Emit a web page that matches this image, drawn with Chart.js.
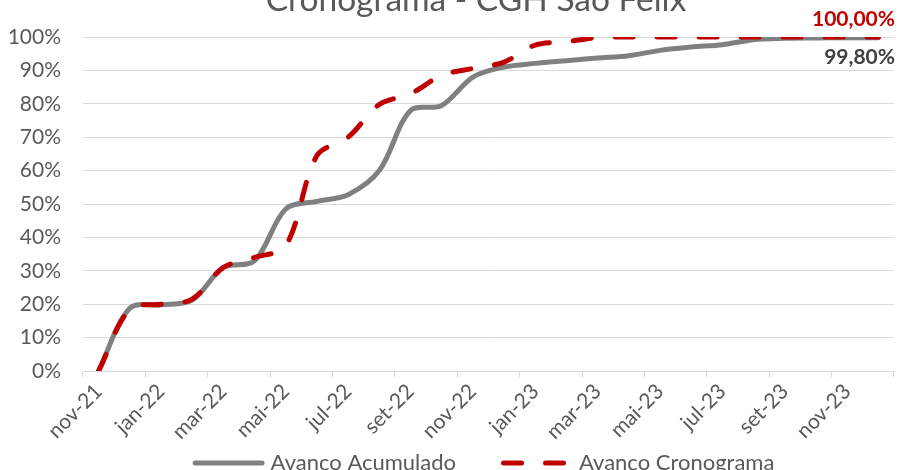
<!DOCTYPE html>
<html>
<head>
<meta charset="utf-8">
<script src="https://cdn.jsdelivr.net/npm/chart.js@4.4.1/dist/chart.umd.min.js"></script>
<style>
  html, body { margin: 0; padding: 0; background: #ffffff; }
  #wrap { position: relative; width: 900px; height: 470px; overflow: hidden; }
  canvas { display: block; }
</style>
</head>
<body>
<div id="wrap"><canvas id="chart" width="900" height="470"></canvas></div>
<script>
// Monthly progress of the CGH São Felix works (percent complete)
const chartTitle = 'Cronograma - CGH São Felix';

const months = [
  'nov-21', 'dez-21', 'jan-22', 'fev-22', 'mar-22', 'abr-22', 'mai-22',
  'jun-22', 'jul-22', 'ago-22', 'set-22', 'out-22', 'nov-22', 'dez-22',
  'jan-23', 'fev-23', 'mar-23', 'abr-23', 'mai-23', 'jun-23', 'jul-23',
  'ago-23', 'set-23', 'out-23', 'nov-23', 'dez-23'
];

const avancoAcumulado = [
  0, 18.8, 19.8, 21.2, 31, 33, 48.5,
  50.8, 52.8, 60, 78, 79.5, 88, 91,
  92.1, 92.9, 93.7, 94.4, 96, 97, 97.7,
  99.2, 99.6, 99.7, 99.8, 99.8
];

const avancoCronograma = [
  0, 18.5, 20, 21.5, 31, 34, 37.5,
  64.5, 70, 79.8, 83, 88.5, 90.6, 92.5,
  97.6, 98.6, 99.8, 100, 100, 100, 100,
  100, 100, 100, 100, 100
];

const yTickValues = [0, 10, 20, 30, 40, 50, 60, 70, 80, 90, 100];

const FONT = 'Lato, "Open Sans", sans-serif';
const TEXT_GREY = '#595959';
const GRID = '#d9d9d9';

const pct = v => v.toFixed(2).replace('.', ',') + '%';

// Title sits at the very top of the canvas
const titlePlugin = {
  id: 'topTitle',
  afterDraw(chart) {
    const { ctx } = chart;
    ctx.save();
    ctx.font = '33.5px ' + FONT;
    ctx.fillStyle = TEXT_GREY;
    ctx.textAlign = 'center';
    ctx.textBaseline = 'alphabetic';
    ctx.fillText(chartTitle, 476, 11);
    ctx.restore();
  }
};

// Value of the last point of each series, written at the right edge
const endLabelPlugin = {
  id: 'endLabels',
  afterDatasetsDraw(chart) {
    const { ctx } = chart;
    chart.data.datasets.forEach((ds, i) => {
      const meta = chart.getDatasetMeta(i);
      const last = meta.data.length - 1;
      const pt = meta.data[last];
      const cfg = ds.endLabel;
      ctx.save();
      ctx.font = 'bold 21px ' + FONT;
      ctx.fillStyle = cfg.color;
      ctx.textAlign = 'right';
      ctx.textBaseline = 'middle';
      ctx.fillText(pct(ds.data[last]), chart.width - 5, pt.y + cfg.dy);
      ctx.restore();
    });
  }
};

// Legend along the bottom edge
const legendPlugin = {
  id: 'bottomLegend',
  afterDraw(chart) {
    const { ctx } = chart;
    const sample = 72, toText = 6, itemGap = 45, cy = 463;
    ctx.save();
    ctx.font = '22px ' + FONT;
    const items = chart.data.datasets.map(ds => ({ ds, w: ctx.measureText(ds.label).width }));
    let total = 0;
    items.forEach((it, i) => { total += sample + toText + it.w + (i ? itemGap : 0); });
    let x = 483.5 - total / 2;
    items.forEach((it, i) => {
      if (i) x += itemGap;
      const ds = it.ds;
      ctx.beginPath();
      ctx.strokeStyle = ds.borderColor;
      ctx.lineWidth = ds.borderWidth;
      ctx.lineCap = ds.borderCapStyle;
      ctx.setLineDash(ds.borderDash || []);
      ctx.moveTo(x + 2.5, cy);
      ctx.lineTo(x + sample - 2.5, cy);
      ctx.stroke();
      ctx.setLineDash([]);
      x += sample + toText;
      ctx.fillStyle = TEXT_GREY;
      ctx.textAlign = 'left';
      ctx.textBaseline = 'middle';
      ctx.fillText(ds.label, x, cy);
      x += it.w;
    });
    ctx.restore();
  }
};

new Chart(document.getElementById('chart'), {
  type: 'line',
  data: {
    labels: months,
    datasets: [
      {
        label: 'Avanço Acumulado',
        data: avancoAcumulado,
        order: 1,
        borderColor: '#808080',
        borderWidth: 5,
        borderCapStyle: 'round',
        borderJoinStyle: 'round',
        tension: 0.33,
        pointRadius: 0,
        fill: false,
        endLabel: { color: '#404040', dy: 20 }
      },
      {
        label: 'Avanço Cronograma',
        data: avancoCronograma,
        order: 0,
        borderColor: '#c00000',
        borderWidth: 5,
        borderDash: [18, 24],
        borderCapStyle: 'round',
        borderJoinStyle: 'round',
        tension: 0.33,
        pointRadius: 0,
        fill: false,
        endLabel: { color: '#c00000', dy: -18 }
      }
    ]
  },
  options: {
    responsive: false,
    animation: false,
    events: [],
    layout: { padding: { top: 37, right: 6, bottom: 0, left: 0 } },
    plugins: {
      legend: { display: false },
      title: { display: false },
      tooltip: { enabled: false }
    },
    scales: {
      x: {
        type: 'category',
        offset: true,
        grid: {
          display: true,
          offset: true,
          drawOnChartArea: false,
          drawTicks: true,
          tickLength: 6,
          lineWidth: 1,
          color: ctx => (ctx.index === undefined || ctx.index % 2 === 0) ? GRID : 'rgba(0,0,0,0)'
        },
        border: { display: true, color: GRID, width: 1 },
        ticks: {
          autoSkip: false,
          minRotation: 45,
          maxRotation: 45,
          padding: 2,
          color: TEXT_GREY,
          font: { family: FONT, size: 21 },
          callback(value, index) {
            return index % 2 === 0 ? this.getLabelForValue(value) : '';
          }
        },
        afterFit(scale) { scale.height = 99; }
      },
      y: {
        min: yTickValues[0],
        max: yTickValues[yTickValues.length - 1],
        afterBuildTicks(scale) { scale.ticks = yTickValues.map(v => ({ value: v })); },
        ticks: {
          padding: 22,
          color: TEXT_GREY,
          font: { family: FONT, size: 21 },
          callback: v => v + '%'
        },
        grid: { color: GRID, lineWidth: 1, drawTicks: false },
        border: { display: false },
        afterFit(scale) { scale.width = 83; }
      }
    }
  },
  plugins: [titlePlugin, endLabelPlugin, legendPlugin]
});
</script>
</body>
</html>
